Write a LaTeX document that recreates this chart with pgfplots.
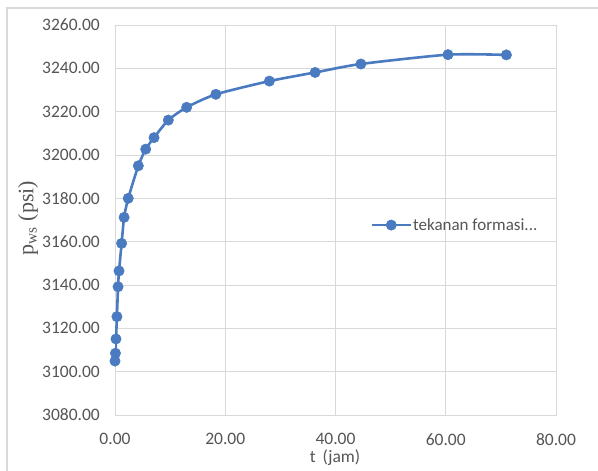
\documentclass[border=0pt]{standalone}
\usepackage{pgfplots}
\pgfplotsset{compat=1.18}
\usepackage{fontspec}
\setmainfont{Carlito}
\newfontfamily\serif{Liberation Serif}
\definecolor{ser}{HTML}{4A7BC0}
\definecolor{grd}{HTML}{D9D9D9}
\definecolor{txt}{HTML}{555555}
\begin{document}
\begin{tikzpicture}[x=1bp,y=1bp]
\useasboundingbox (0,0) rectangle (598,471);
\draw[grd, line width=1.2bp] (7,0) -- (7,463) -- (598,463);
\begin{axis}[
  at={(115bp,56bp)}, anchor=south west, scale only axis,
  width=441bp, height=390bp,
  xmin=0, xmax=80, ymin=3080, ymax=3260,
  xtick={0,20,...,80}, ytick={3080,3100,...,3260},
  grid=major, major grid style={grd, line width=0.9bp},
  axis line style={grd, line width=0.9bp},
  tick style={draw=none},
  /pgf/number format/assume math mode=true,
  /pgf/number format/.cd, fixed, fixed zerofill, precision=2, 1000 sep={},
  /pgfplots/.cd,
  ticklabel style={font=\fontsize{17.5bp}{20bp}\selectfont, text=txt},
  yticklabel style={inner sep=0pt, xshift=-15bp},
  xticklabel style={inner sep=0pt, yshift=-18bp},
  ylabel={\serif p\textsubscript{ws} (psi)},
  ylabel style={at={(axis description cs:-0.197,0.505)}, anchor=center, font=\fontsize{22bp}{24bp}\selectfont, text=txt},
  xlabel={t\, (jam)},
  xlabel style={at={(axis description cs:0.499,-0.110)}, anchor=center, font=\fontsize{17.5bp}{20bp}\selectfont, text=txt},
  legend style={at={(0.580,0.487)}, anchor=west, draw=none, fill=none, inner sep=0pt,
    font=\fontsize{17bp}{19bp}\selectfont, text=txt, nodes={inner sep=1.5bp}},
  legend cell align=left,
  legend image code/.code={\draw[mark repeat=2,mark phase=2] plot coordinates {(0bp,0bp)(19bp,0bp)(38bp,0bp)};},
]
\addplot[color=ser, line width=2.6bp, smooth, tension=0.4, mark=*, mark size=5.2bp, mark options={fill=ser, draw=ser, line width=0.5bp}]
coordinates {
(0.00,3104.9)
(0.08,3108.5)
(0.18,3115.1)
(0.35,3125.4)
(0.55,3139.2)
(0.73,3146.5)
(1.20,3159.2)
(1.65,3171.2)
(2.40,3180.0)
(4.23,3195.0)
(5.57,3202.7)
(7.08,3208.0)
(9.67,3216.1)
(13.0,3222.0)
(18.3,3228.0)
(28.0,3234.1)
(36.3,3238.1)
(44.6,3242.0)
(60.4,3246.3)
(71.0,3246.2)
};
\addlegendentry{tekanan formasi...}
\end{axis}
\end{tikzpicture}
\end{document}
